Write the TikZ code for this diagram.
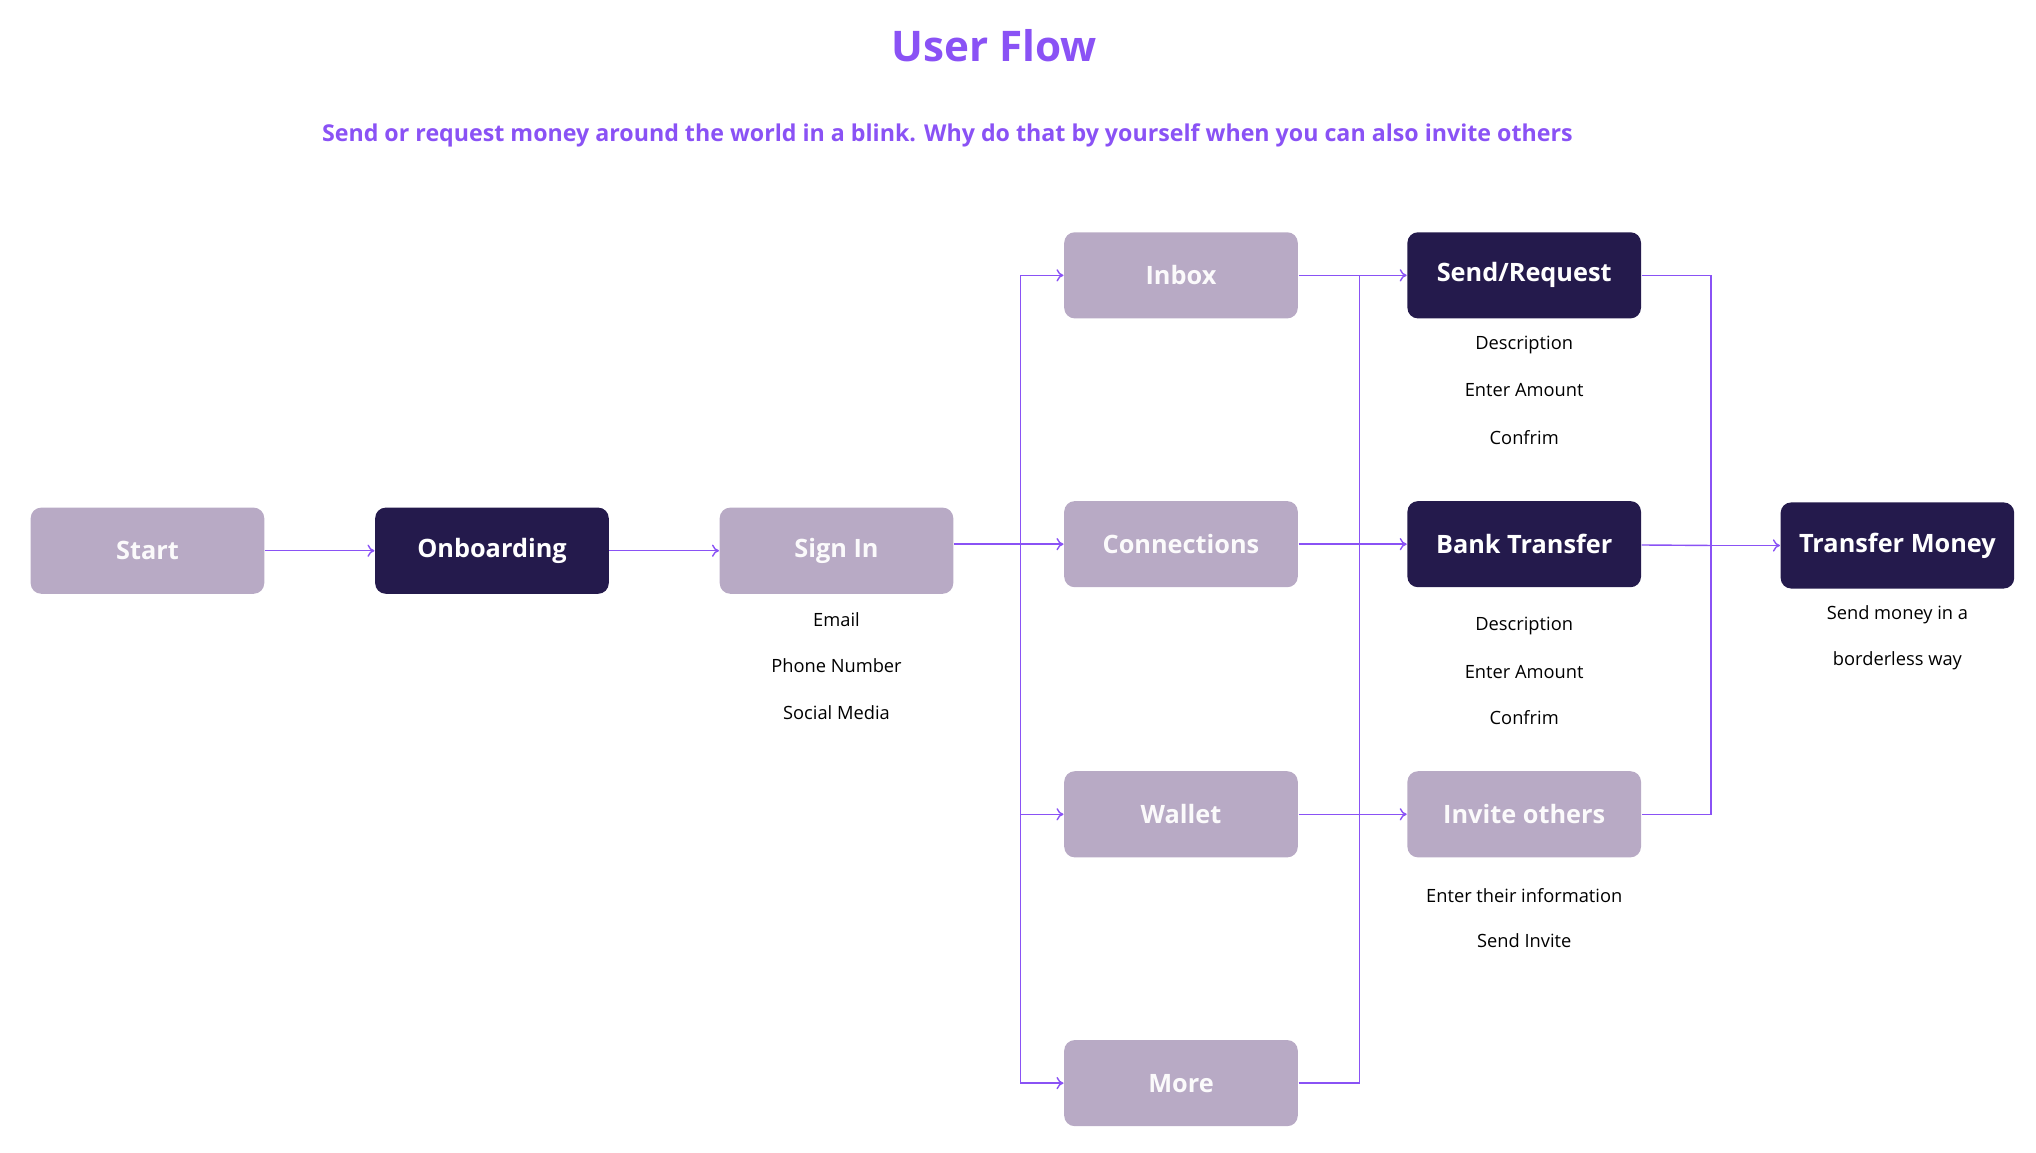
\documentclass[tikz,border=0pt]{standalone}
\usepackage{fontspec}
\setmainfont{Open Sans}
\usepackage{tikz}
\usetikzlibrary{arrows.meta}
\definecolor{flow}{HTML}{8A52F5}
\definecolor{light}{HTML}{B8AAC5}
\definecolor{dark}{HTML}{241A4C}
\tikzset{
  box/.style={rectangle,rounded corners=3pt,minimum width=179*0.01305cm,minimum height=66*0.01305cm,inner sep=0pt,font=\bfseries\fontsize{7.2}{9}\selectfont},
  lbox/.style={box,fill=light,text=white!94!light},
  dbox/.style={box,fill=dark,text=white},
  note/.style={font=\fontsize{5.2}{6}\selectfont},
  link/.style={draw=flow,line width=0.4pt},
  arr/.style={link,-{To[length=2pt,width=3.5pt]}}
}
\begin{document}
\begin{tikzpicture}[x=0.01305cm,y=-0.01305cm]
\useasboundingbox (0,0) rectangle (1560.2,882.8);

\node[font=\bfseries\fontsize{12}{14}\selectfont,text=flow] (title) at (762,35) {User Flow};
\node[font=\bfseries\fontsize{6.6}{8}\selectfont,text=flow] (sub) at (726,104) {Send or request money around the world in a blink. Why do that by yourself when you can also invite others};

\node[lbox] (start) at (113,422) {Start};
\node[dbox] (onb) at (377,422) {Onboarding};
\node[lbox] (sign) at (641,422) {Sign In};
\node[lbox] (inbox) at (905,211) {Inbox};
\node[lbox] (conn) at (905,417) {Connections};
\node[lbox] (wallet) at (905,624) {Wallet};
\node[lbox] (more) at (905,830) {More};
\node[dbox] (send) at (1168,211) {Send/Request};
\node[dbox] (bank) at (1168,417) {Bank Transfer};
\node[lbox] (invite) at (1168,624) {Invite others};
\node[dbox] (money) at (1454,418) {Transfer Money};

\node[note] (s1) at (641,475) {Email};
\node[note] (s2) at (641,510) {Phone Number};
\node[note] (s3) at (641,546) {Social Media};
\node[note] (r1) at (1168,264) {Description};
\node[note] (r2) at (1168,299) {Enter Amount};
\node[note] (r3) at (1168,335) {Confrim};
\node[note] (b1) at (1168,480) {Description};
\node[note] (b2) at (1168,515) {Enter Amount};
\node[note] (b3) at (1168,550) {Confrim};
\node[note] (i1) at (1168,686) {Enter their information};
\node[note] (i2) at (1168,721) {Send Invite};
\node[note] (m1) at (1454,471) {Send money in a};
\node[note] (m2) at (1454,506) {borderless way};

\coordinate (busa) at (782,417);
\coordinate (busb) at (1042,417);
\coordinate (busc) at (1311,418);

\draw[arr] (start) -- (onb);
\draw[arr] (onb) -- (sign.west |- onb);
\draw[link] (sign.east |- conn) -- (busa);
\foreach \n in {inbox,conn,wallet,more}
  \draw[arr] (busa |- \n) -- (\n);
\draw[link] (busa |- inbox) -- (busa |- more);
\draw[arr] (inbox) -- (send);
\draw[arr] (conn) -- (bank);
\draw[arr] (wallet) -- (invite);
\draw[link] (more) -- (busb |- more) -- (busb |- inbox);
\draw[link] (send) -| (busc) |- (invite);
\draw[arr] (busc) -- (money);
\draw[link] (bank) -- (busc);
\end{tikzpicture}
\end{document}
